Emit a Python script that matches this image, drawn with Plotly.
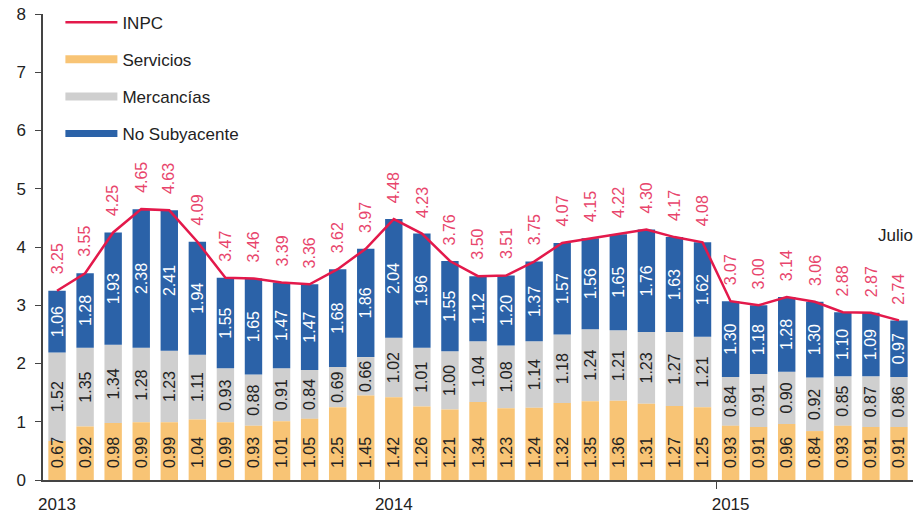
import plotly.graph_objects as go

months = list(range(31))
year_ticks = [0, 12, 24]
year_labels = ["2013", "2014", "2015"]
year_bounds = [11.5, 23.5]

inpc = [3.25, 3.55, 4.25, 4.65, 4.63, 4.09, 3.47, 3.46, 3.39, 3.36, 3.62, 3.97,
        4.48, 4.23, 3.76, 3.50, 3.51, 3.75, 4.07, 4.15, 4.22, 4.30, 4.17, 4.08,
        3.07, 3.00, 3.14, 3.06, 2.88, 2.87, 2.74]
servicios = [0.67, 0.92, 0.98, 0.99, 0.99, 1.04, 0.99, 0.93, 1.01, 1.05, 1.25, 1.45,
             1.42, 1.26, 1.21, 1.34, 1.23, 1.24, 1.32, 1.35, 1.36, 1.31, 1.27, 1.25,
             0.93, 0.91, 0.96, 0.84, 0.93, 0.91, 0.91]
mercancias = [1.52, 1.35, 1.34, 1.28, 1.23, 1.11, 0.93, 0.88, 0.91, 0.84, 0.69, 0.66,
              1.02, 1.01, 1.00, 1.04, 1.08, 1.14, 1.18, 1.24, 1.21, 1.23, 1.27, 1.21,
              0.84, 0.91, 0.90, 0.92, 0.85, 0.87, 0.86]
no_subyacente = [1.06, 1.28, 1.93, 2.38, 2.41, 1.94, 1.55, 1.65, 1.47, 1.47, 1.68, 1.86,
                 2.04, 1.96, 1.55, 1.12, 1.20, 1.37, 1.57, 1.56, 1.65, 1.76, 1.63, 1.62,
                 1.30, 1.18, 1.28, 1.30, 1.10, 1.09, 0.97]

C_SERV = "#f8c475"
C_MERC = "#cfcfcf"
C_NOSUB = "#2b62a8"
C_INPC = "#e3194b"
C_LBL = "#e8456c"
FONT = "Liberation Sans, Arial, sans-serif"

# stacked bases (built from the series)
base_merc = list(servicios)
base_nosub = [s + m for s, m in zip(servicios, mercancias)]

fig = go.Figure()

def bar(y, base, color, txtcolor, anchor, template="%{y:.2f}"):
    return go.Bar(x=months, y=y, base=base,
                  marker=dict(color=color, line=dict(width=0)),
                  texttemplate=template, textposition="inside", textangle=-90,
                  insidetextanchor=anchor, constraintext="none",
                  textfont=dict(size=16, color=txtcolor, family=FONT),
                  showlegend=False, hoverinfo="skip")

# upper segments first so the Servicios labels are drawn on top
fig.add_trace(bar(mercancias, base_merc, C_MERC, "#222222", "middle"))
fig.add_trace(bar(no_subyacente, base_nosub, C_NOSUB, "#ffffff", "middle"))
fig.add_trace(bar(servicios, [0] * len(servicios), C_SERV, "#222222", "start",
                  "\u00a0\u00a0%{y:.2f}"))

fig.add_trace(go.Scatter(x=months, y=inpc, mode="lines",
                         line=dict(color=C_INPC, width=2.5),
                         showlegend=False, hoverinfo="skip"))

# legend entries
legend_items = [("INPC", C_INPC, 2.5), ("Servicios", C_SERV, 8),
                ("Mercancías", C_MERC, 8), ("No Subyacente", C_NOSUB, 7)]
for i, (name, col, w) in enumerate(legend_items):
    fig.add_trace(go.Scatter(x=[None], y=[None], mode="lines", name=name,
                             legendgroup=f"g{i}",
                             line=dict(color=col, width=w)))

annotations = []
for i, v in enumerate(inpc):
    annotations.append(dict(x=i, y=v, xref="x", yref="y", text=f"{v:.2f}",
                            textangle=-90, showarrow=False, xanchor="center",
                            yanchor="bottom", yshift=14,
                            font=dict(size=16, color=C_LBL, family=FONT)))
annotations.append(dict(x=30, y=4.2, xref="x", yref="y", text="Julio",
                        showarrow=False, xanchor="center", yanchor="middle",
                        xshift=-3,
                        font=dict(size=17, color="#222222", family=FONT)))

fig.update_layout(
    width=916, height=516,
    margin=dict(l=43, r=3, t=14, b=36),
    paper_bgcolor="white", plot_bgcolor="white",
    barmode="overlay", bargap=0.38,
    font=dict(family=FONT, size=17, color="#222222"),
    uniformtext=dict(minsize=16, mode="show"),
    showlegend=True,
    legend=dict(x=0.02, y=1.02, xanchor="left", yanchor="top",
                font=dict(size=17, family=FONT, color="#222222"),
                itemwidth=52, tracegroupgap=12, traceorder="grouped",
                bgcolor="rgba(0,0,0,0)"),
    annotations=annotations,
)
fig.update_xaxes(range=[-0.5, 30.5], showgrid=False, zeroline=False,
                 showline=True, linecolor="#444444", linewidth=1.5,
                 tickmode="array", tickvals=year_ticks, ticktext=year_labels,
                 ticks="", ticklabelstandoff=8,
                 minor=dict(tickmode="array", tickvals=year_bounds, ticks="outside",
                            ticklen=7, tickcolor="#444444", showgrid=False),
                 tickfont=dict(size=17))
fig.update_yaxes(range=[0, 8], dtick=1, showgrid=False, zeroline=False,
                 showline=True, linecolor="#444444", linewidth=1.5,
                 ticks="outside", ticklen=6, tickcolor="#444444",
                 ticklabelstandoff=6, tickfont=dict(size=17))

fig.write_html("out.html", config={"displayModeBar": False},
               post_script="document.body.style.margin='0';document.body.style.overflow='hidden';")
